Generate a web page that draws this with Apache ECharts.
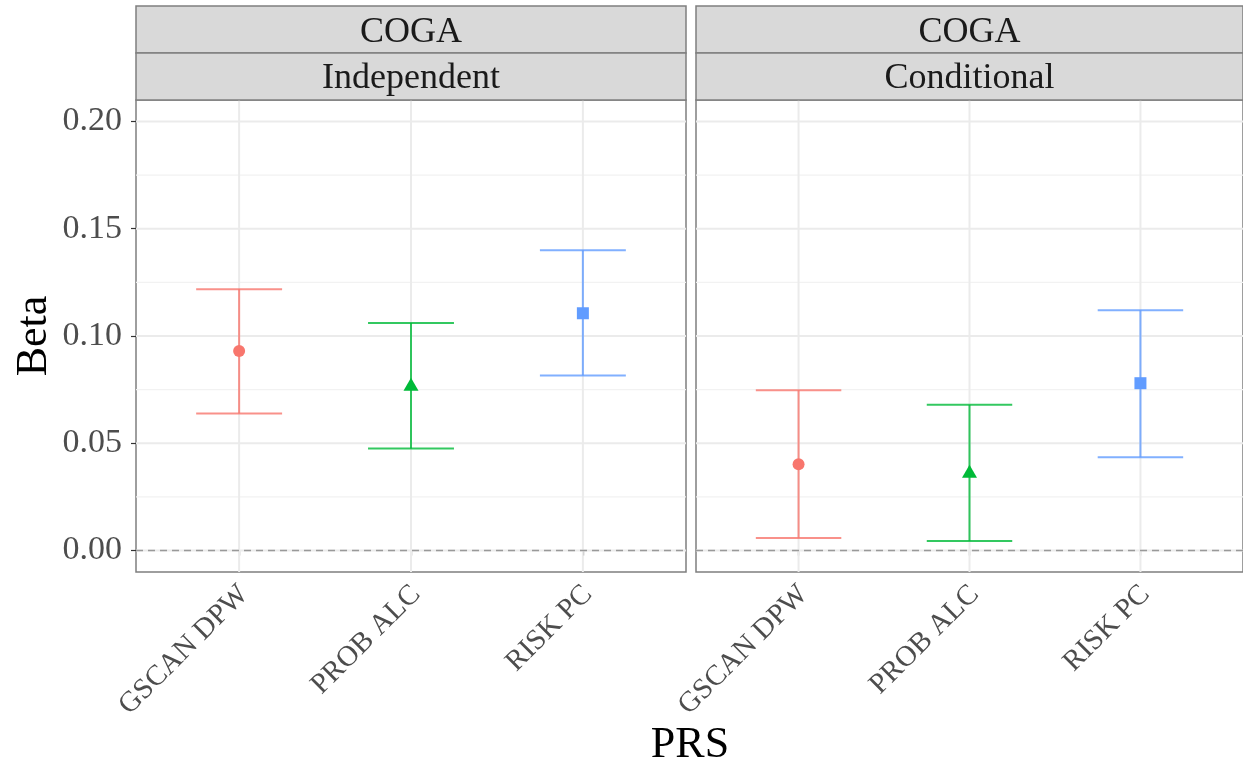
<!DOCTYPE html>
<html>
<head>
<meta charset="utf-8">
<script src="https://cdn.jsdelivr.net/npm/echarts@6/dist/echarts.min.js"></script>
<style>
html,body{margin:0;padding:0;background:#fff;}
#chart{width:1243px;height:765px;}
</style>
</head>
<body>
<div id="chart"></div>
<script>
// ---- data ----
const categories = ['GSCAN DPW', 'PROB ALC', 'RISK PC'];
const panelTitles = ['Independent', 'Conditional'];
const stripTop = 'COGA';
const betaIndependent  = [0.093, 0.0775, 0.1106];
const lowerIndependent = [0.0639, 0.0476, 0.0816];
const upperIndependent = [0.1218, 0.1061, 0.1400];
const betaConditional  = [0.0402, 0.0370, 0.0780];
const lowerConditional = [0.0059, 0.0045, 0.0435];
const upperConditional = [0.0747, 0.0679, 0.1120];
const yTicks = [0, 0.05, 0.10, 0.15, 0.20];
const yMinorTicks = [0.025, 0.075, 0.125, 0.175];
const xPositions = [1, 2, 3];
const refLine = [0];

const colors = ['#F8766D', '#00BA38', '#619CFF'];
const symbols = ['circle', 'triangle', 'rect'];
const symbolSizes = [12, [15, 13], 12];
const FONT = '"Liberation Serif", "Times New Roman", serif';

const panels = [
  {beta: betaIndependent, lower: lowerIndependent, upper: upperIndependent},
  {beta: betaConditional, lower: lowerConditional, upper: upperConditional}
];
const gridPos = [
  {left: 136, top: 100, width: 550, height: 472},
  {left: 696, top: 100, width: 547, height: 472}
];

const chart = echarts.init(document.getElementById('chart'), null, {renderer: 'canvas'});

const grids = gridPos.map(g => ({
  left: g.left, top: g.top, width: g.width, height: g.height,
  show: true, backgroundColor: '#fff', borderColor: '#7f7f7f', borderWidth: 1.5,
  containLabel: false, outerBoundsMode: 'none'
}));

const xAxes = gridPos.map((g, i) => ({
  type: 'value', gridIndex: i, min: 0.4, max: 3.6,
  axisLine: {show: false},
  splitLine: {show: false},
  axisTick: {show: true, customValues: xPositions, length: 5, lineStyle: {color: '#333', width: 1.2}},
  axisLabel: {
    show: true, customValues: xPositions, rotate: 45, margin: 13,
    verticalAlign: 'top', lineHeight: 14,
    formatter: v => categories[Math.round(v) - 1] || '',
    fontFamily: FONT, fontSize: 29, color: '#4D4D4D'
  }
}));

const yAxes = gridPos.map((g, i) => ({
  type: 'value', gridIndex: i, min: -0.01, max: 0.21,
  axisLine: {show: false},
  splitLine: {show: false},
  axisTick: {show: i === 0, customValues: yTicks, length: 5, lineStyle: {color: '#333', width: 1.2}},
  axisLabel: {
    show: i === 0, customValues: yTicks, margin: 14,
    formatter: v => v.toFixed(2),
    fontFamily: FONT, fontSize: 34, color: '#4D4D4D'
  },
  name: i === 0 ? 'Beta' : '',
  nameLocation: 'middle', nameRotate: 90, nameGap: 80,
  nameTextStyle: {fontFamily: FONT, fontSize: 44, color: '#000'}
}));

const series = [];
panels.forEach((p, pi) => {
  // horizontal grid lines (minor then major)
  series.push({
    type: 'custom', xAxisIndex: pi, yAxisIndex: pi, silent: true, z: 1,
    data: yMinorTicks.map(v => [v]),
    renderItem: (params, api) => {
      const a = api.coord([0.4, api.value(0)]);
      const b = api.coord([3.6, api.value(0)]);
      return {type: 'line', shape: {x1: a[0], y1: a[1], x2: b[0], y2: b[1]},
        style: {stroke: '#F2F2F2', lineWidth: 1.2}};
    }
  });
  series.push({
    type: 'custom', xAxisIndex: pi, yAxisIndex: pi, silent: true, z: 1,
    data: yTicks.map(v => [v]),
    renderItem: (params, api) => {
      const a = api.coord([0.4, api.value(0)]);
      const b = api.coord([3.6, api.value(0)]);
      return {type: 'line', shape: {x1: a[0], y1: a[1], x2: b[0], y2: b[1]},
        style: {stroke: '#EBEBEB', lineWidth: 2}};
    }
  });
  // vertical grid lines
  series.push({
    type: 'custom', xAxisIndex: pi, yAxisIndex: pi, silent: true, z: 1,
    data: xPositions.map(v => [v]),
    renderItem: (params, api) => {
      const a = api.coord([api.value(0), -0.01]);
      const b = api.coord([api.value(0), 0.21]);
      return {type: 'line', shape: {x1: a[0], y1: a[1], x2: b[0], y2: b[1]},
        style: {stroke: '#EBEBEB', lineWidth: 2}};
    }
  });
  // dashed zero line
  series.push({
    type: 'custom', xAxisIndex: pi, yAxisIndex: pi, silent: true, z: 2,
    data: refLine.map(v => [v]),
    renderItem: (params, api) => {
      const a = api.coord([0.4, api.value(0)]);
      const b = api.coord([3.6, api.value(0)]);
      return {type: 'line', shape: {x1: a[0], y1: a[1], x2: b[0], y2: b[1]},
        style: {stroke: '#999999', lineWidth: 1.6, lineDash: [7, 5]}};
    }
  });
  // error bars
  series.push({
    type: 'custom', xAxisIndex: pi, yAxisIndex: pi, z: 3,
    data: categories.map((c, i) => [xPositions[i], p.lower[i], p.upper[i], i]),
    renderItem: (params, api) => {
      const x = api.value(0), lo = api.value(1), hi = api.value(2), ci = api.value(3);
      const top = api.coord([x, hi]), bot = api.coord([x, lo]);
      const l1 = api.coord([x - 0.25, hi]), r1 = api.coord([x + 0.25, hi]);
      const l2 = api.coord([x - 0.25, lo]), r2 = api.coord([x + 0.25, lo]);
      const st = {stroke: colors[ci], lineWidth: 2, opacity: 0.8};
      return {type: 'group', children: [
        {type: 'line', shape: {x1: top[0], y1: top[1], x2: bot[0], y2: bot[1]}, style: st},
        {type: 'line', shape: {x1: l1[0], y1: l1[1], x2: r1[0], y2: r1[1]}, style: st},
        {type: 'line', shape: {x1: l2[0], y1: l2[1], x2: r2[0], y2: r2[1]}, style: st}
      ]};
    }
  });
  // points
  categories.forEach((c, i) => {
    series.push({
      type: 'scatter', xAxisIndex: pi, yAxisIndex: pi, z: 4,
      symbol: symbols[i], symbolSize: symbolSizes[i],
      itemStyle: {color: colors[i], opacity: 1},
      data: [[xPositions[i], p.beta[i]]]
    });
  });
});

const graphics = [];
gridPos.forEach((g, i) => {
  graphics.push({type: 'rect', shape: {x: g.left, y: 6, width: g.width, height: 47},
    style: {fill: '#D9D9D9', stroke: '#7f7f7f', lineWidth: 1.5}, z: 10});
  graphics.push({type: 'rect', shape: {x: g.left, y: 53, width: g.width, height: 47},
    style: {fill: '#D9D9D9', stroke: '#7f7f7f', lineWidth: 1.5}, z: 10});
  graphics.push({type: 'text', x: g.left + g.width / 2, y: 33, z: 11,
    style: {text: stripTop, fontFamily: FONT, fontSize: 36, fill: '#1A1A1A', align: 'center', verticalAlign: 'middle'}});
  graphics.push({type: 'text', x: g.left + g.width / 2, y: 79, z: 11,
    style: {text: panelTitles[i], fontFamily: FONT, fontSize: 36, fill: '#1A1A1A', align: 'center', verticalAlign: 'middle'}});
});
graphics.push({type: 'text', x: 690, y: 745, z: 11,
  style: {text: 'PRS', fontFamily: FONT, fontSize: 44, fill: '#000', align: 'center', verticalAlign: 'middle'}});

chart.setOption({
  animation: false,
  backgroundColor: '#fff',
  grid: grids,
  xAxis: xAxes,
  yAxis: yAxes,
  series: series,
  graphic: graphics
});
</script>
</body>
</html>
